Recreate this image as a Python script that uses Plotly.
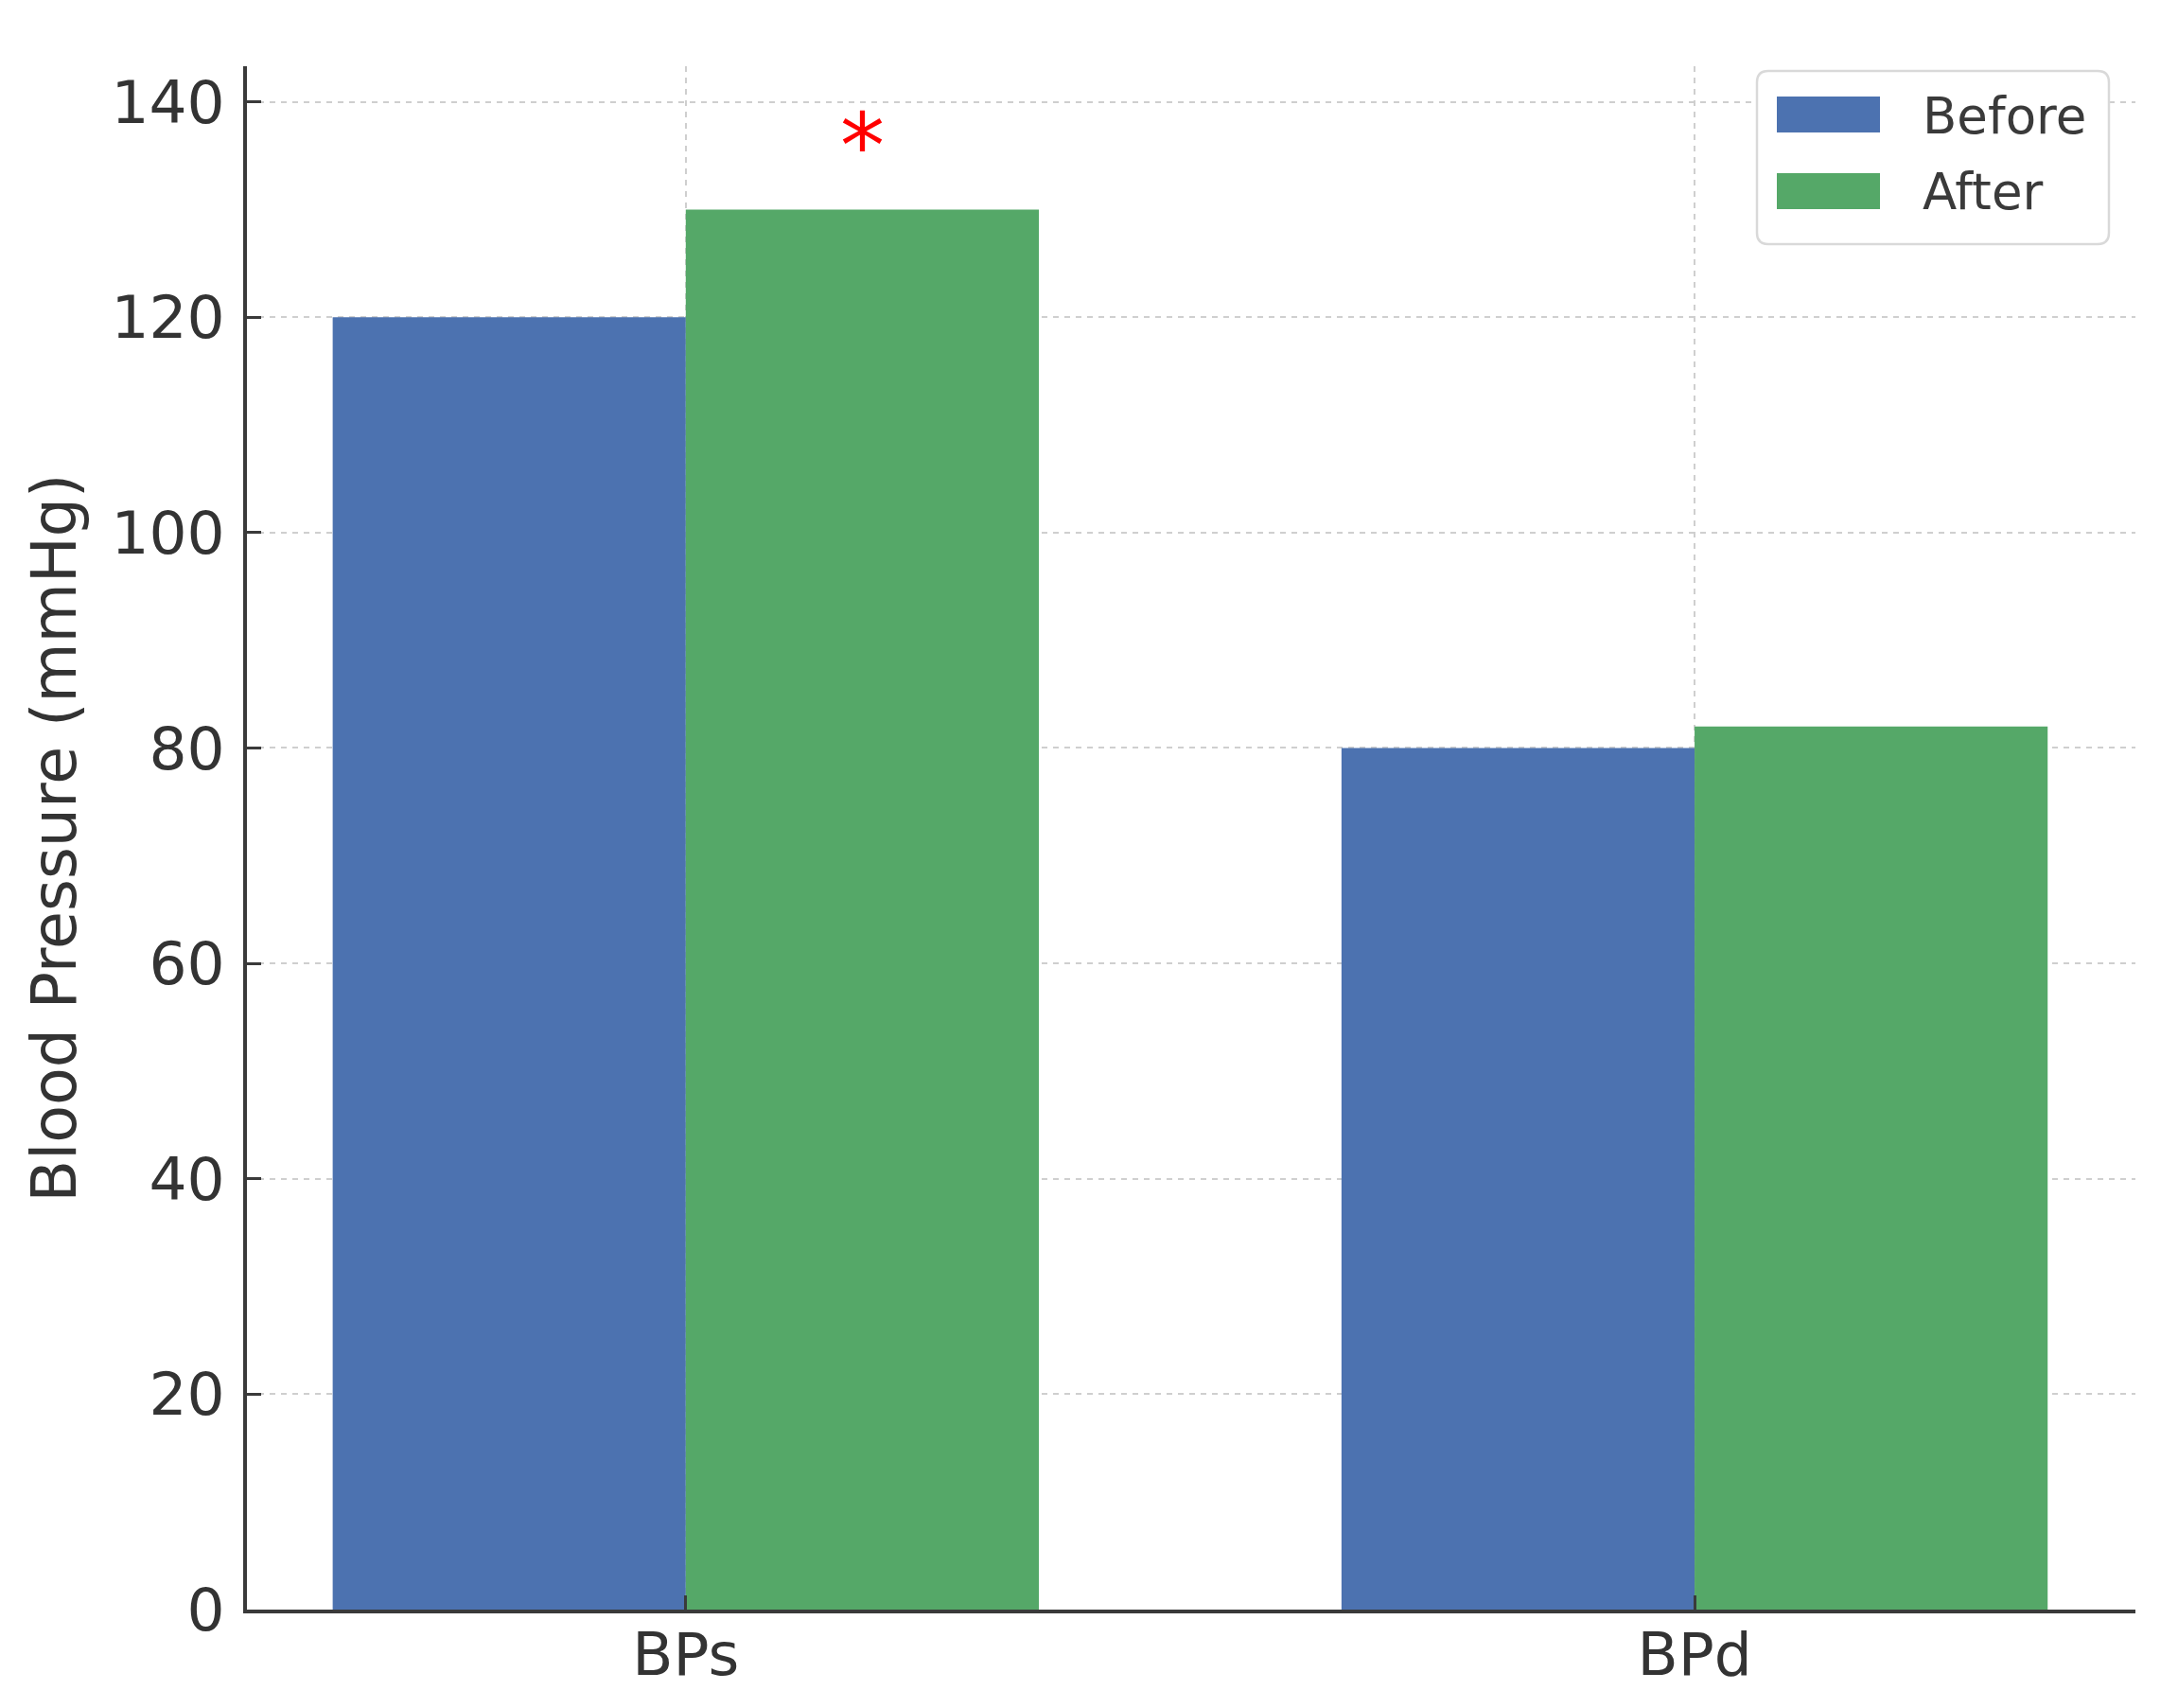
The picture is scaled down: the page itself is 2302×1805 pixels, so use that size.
import plotly.graph_objects as go

categories = ['BPs', 'BPd']
series_names = ['Before', 'After']
before_values = [120, 80]
after_values = [130, 82]
colors = ['#4c72b0', '#55a868']
y_ticks = [0, 20, 40, 60, 80, 100, 120, 140]
marker_text = '*'

W, H = 2302, 1805
L, R, T, B = 261, 45, 70, 104
plot_w = W - L - R
plot_h = H - T - B


def px(x):
    return (x - L) / plot_w


def py(y):
    return (H - B - y) / plot_h


def rounded_box(x0, y0, x1, y1, r):
    # rounded rectangle path in paper units, corners given in page pixels
    X0, X1 = px(x0), px(x1)
    Y0, Y1 = py(y1), py(y0)
    rx, ry = r / plot_w, r / plot_h
    return (f'M{X0 + rx},{Y0} L{X1 - rx},{Y0} Q{X1},{Y0} {X1},{Y0 + ry} '
            f'L{X1},{Y1 - ry} Q{X1},{Y1} {X1 - rx},{Y1} '
            f'L{X0 + rx},{Y1} Q{X0},{Y1} {X0},{Y1 - ry} '
            f'L{X0},{Y0 + ry} Q{X0},{Y0} {X0 + rx},{Y0} Z')


fig = go.Figure()
for name, vals, col in zip(series_names, [before_values, after_values], colors):
    fig.add_trace(go.Bar(x=categories, y=vals, name=name, marker_color=col,
                         marker_line_width=0, showlegend=False))

bar_w = 0.35
# significance marker above the "After" BPs bar
fig.add_annotation(x=0 + bar_w / 2, y=after_values[0] + 5.9, text=marker_text,
                   showarrow=False, yanchor='middle',
                   font=dict(family='DejaVu Sans', size=94, color='red'))

# legend drawn by hand so the patches look like matplotlib ones
fig.add_shape(type='path', xref='paper', yref='paper',
              path=rounded_box(1857, 75, 2229, 258, 12),
              line=dict(color='#d9d9d9', width=2.5), fillcolor='white', layer='above')
for i, (name, col) in enumerate(zip(series_names, colors)):
    yc = 121 + i * 81
    fig.add_shape(type='rect', xref='paper', yref='paper',
                  x0=px(1878), x1=px(1987), y0=py(yc + 19), y1=py(yc - 19),
                  line=dict(width=0), fillcolor=col, layer='above')
    fig.add_annotation(xref='paper', yref='paper', x=px(2030), y=py(yc + 1),
                       text=name, showarrow=False, xanchor='left', yanchor='middle',
                       font=dict(family='DejaVu Sans', size=53, color='#3a3a3a'))

axis_common = dict(showline=True, linecolor='#3a3a3a', linewidth=3.5,
                   ticks='inside', ticklen=15, tickwidth=3, tickcolor='#3a3a3a',
                   tickfont=dict(family='DejaVu Sans', size=63, color='#333'),
                   showgrid=True, gridcolor='#cfcfcf', gridwidth=2, griddash='6px,6px',
                   zeroline=False, mirror=False, automargin=False)

fig.update_layout(
    width=W, height=H,
    margin=dict(l=L, r=R, t=T, b=B),
    plot_bgcolor='white', paper_bgcolor='white',
    barmode='group', bargap=0.3, bargroupgap=0,
    font=dict(family='DejaVu Sans', color='#333'),
    xaxis=dict(**axis_common, range=[-0.435, 1.437], ticklabelstandoff=-10),
    yaxis=dict(**axis_common, range=[0, 143.3], tickvals=y_ticks, ticklabelstandoff=7,
               title=dict(text='Blood Pressure (mmHg)', standoff=17,
                          font=dict(family='DejaVu Sans', size=65, color='#333'))),
)

fig.write_html('out.html', config={'displayModeBar': False},
               post_script="document.body.style.margin='0';")
